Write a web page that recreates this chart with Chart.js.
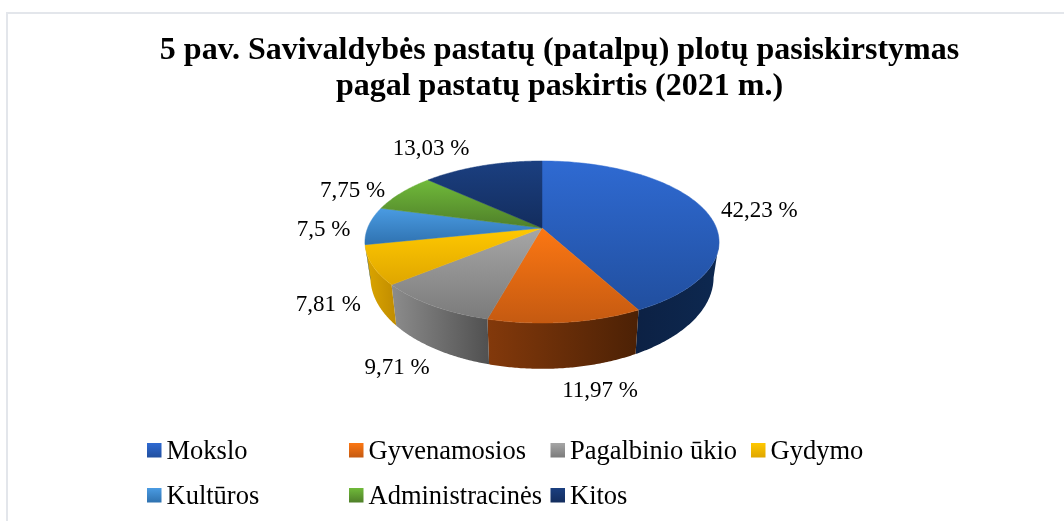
<!DOCTYPE html>
<html><head><meta charset="utf-8">
<style>
html,body{margin:0;padding:0;background:#fff;width:1064px;height:521px;overflow:hidden}
#frame{position:absolute;left:6px;top:12px;width:1058px;height:509px;border-left:2px solid #e3e6eb;border-top:2px solid #e3e6eb;box-sizing:border-box}
canvas{position:absolute;left:0;top:0}
</style>
<script src="https://cdn.jsdelivr.net/npm/chart.js@4/dist/chart.umd.min.js"></script>
</head><body>
<div id="frame"></div>
<canvas id="c" width="1064" height="521"></canvas>
<script>
const titleLines = ['5 pav. Savivaldybės pastatų (patalpų) plotų pasiskirstymas','pagal pastatų paskirtis (2021 m.)'];
const categories = ['Mokslo','Gyvenamosios','Pagalbinio ūkio','Gydymo','Kultūros','Administracinės','Kitos'];
const shares = [42.23,11.97,9.71,7.81,7.5,7.75,13.03];
const valueLabels = ['42,23 %','11,97 %','9,71 %','7,81 %','7,5 %','7,75 %','13,03 %'];
const topLight = ['#2f6ad2','#fc7713','#a6a6a6','#ffc800','#4a9be2','#70ba3a','#1b3f80'];
const topDark = ['#214f9f','#c55a11','#7b7b7b','#dfa600','#2f72b0','#4f7f29','#132d5e'];
const wallLeft = ['#0c2144','#83390b','#8c8c8c','#dca600','#2a6496','#46701f','#10264e'];
const wallRight = ['#0d2850','#4c2105','#505050','#c08c00','#2a6496','#46701f','#10264e'];

// Layout of the tilted pie and its annotations
const PIE = {cx:542, apexY:228, k:-0.1728, topA:78.6, topB:174.4, baseY:261.6, baseA:88.7, baseB:169};
const labelNudge = [[55,1.5],[34.5,69],[-35,62.5],[-44,40],[-45,4],[-49,-2],[-51,-17]];
const LEGEND = {cols:[147,349,550.5,751], rows:[443,488], box:14.5, gap:5, base:15.5, perRow:4};
const FONT = '"Liberation Serif","Times New Roman",serif';

function pt(theta, layer){
  // theta: Chart.js angle (radians, 0 = +x); converted to clockwise-from-top on the disc
  const t = theta + Math.PI/2, u = Math.sin(t), v = -Math.cos(t), d = 1 + PIE.k*v;
  return layer === 'top'
    ? [PIE.cx + PIE.topB*u/d, PIE.apexY + PIE.topA*v/d]
    : [PIE.cx + PIE.baseB*u/d, PIE.baseY + PIE.baseA*v/d];
}
const deg = Math.PI/180;
const pie3d = {
  id:'pie3d',
  beforeDatasetsDraw(chart){
    const ctx = chart.ctx, arcs = chart.getDatasetMeta(0).data;
    const loV = -90*deg + 100*deg, hiV = -90*deg + 260*deg;
    // side wall
    arcs.forEach((a,i)=>{
      const s = Math.max(a.startAngle,loV), e = Math.min(a.endAngle,hiV);
      if (e <= s) return;
      const top=[], bot=[];
      for (let n=0;n<=80;n++){ const th=s+(e-s)*n/80; top.push(pt(th,'top')); bot.push(pt(th,'base')); }
      const xs = top.concat(bot).map(p=>p[0]);
      const g = ctx.createLinearGradient(Math.min(...xs),0,Math.max(...xs),0);
      g.addColorStop(0,wallLeft[i]); g.addColorStop(1,wallRight[i]);
      ctx.beginPath();
      top.forEach((p,j)=> j?ctx.lineTo(p[0],p[1]):ctx.moveTo(p[0],p[1]));
      bot.reverse().forEach(p=>ctx.lineTo(p[0],p[1]));
      ctx.closePath(); ctx.fillStyle=g; ctx.fill();
    });
    // top face
    arcs.forEach((a,i)=>{
      const rim=[];
      for (let n=0;n<=120;n++){ rim.push(pt(a.startAngle+(a.endAngle-a.startAngle)*n/120,'top')); }
      const ys = rim.map(p=>p[1]).concat(PIE.apexY);
      const g = ctx.createLinearGradient(0,Math.min(...ys),0,Math.max(...ys));
      g.addColorStop(0,topLight[i]); g.addColorStop(1,topDark[i]);
      ctx.beginPath(); ctx.moveTo(PIE.cx,PIE.apexY);
      rim.forEach(p=>ctx.lineTo(p[0],p[1]));
      ctx.closePath(); ctx.fillStyle=g; ctx.fill();
      ctx.strokeStyle=g; ctx.lineWidth=0.5; ctx.stroke();
    });
    // value labels
    ctx.font = '23px '+FONT; ctx.fillStyle='#000'; ctx.textAlign='center'; ctx.textBaseline='middle';
    arcs.forEach((a,i)=>{
      const p = pt((a.startAngle+a.endAngle)/2,'top');
      ctx.fillText(valueLabels[i], p[0]+labelNudge[i][0], p[1]+labelNudge[i][1]);
    });
    // legend
    ctx.textAlign='left'; ctx.textBaseline='alphabetic'; ctx.font='26.5px '+FONT;
    categories.forEach((c,i)=>{
      const x = LEGEND.cols[i%LEGEND.perRow], y = LEGEND.rows[Math.floor(i/LEGEND.perRow)];
      const g = ctx.createLinearGradient(0,y,0,y+LEGEND.box);
      g.addColorStop(0,topLight[i]); g.addColorStop(1,topDark[i]);
      ctx.fillStyle=g; ctx.fillRect(x,y,LEGEND.box,LEGEND.box);
      ctx.fillStyle='#000'; ctx.fillText(c,x+LEGEND.box+LEGEND.gap,y+LEGEND.base);
    });
    return false;
  }
};
new Chart(document.getElementById('c'),{
  type:'pie',
  data:{labels:categories,datasets:[{data:shares,backgroundColor:topLight,borderWidth:0}]},
  plugins:[pie3d],
  options:{
    responsive:false,animation:false,
    layout:{padding:{left:55}},
    plugins:{
      legend:{display:false},tooltip:{enabled:false},
      title:{display:true,text:titleLines,fullSize:false,color:'#000',
        font:{family:FONT,size:32,weight:'bold',lineHeight:1.12},padding:{top:33,bottom:10}}
    }
  }
});
</script>
</body></html>
